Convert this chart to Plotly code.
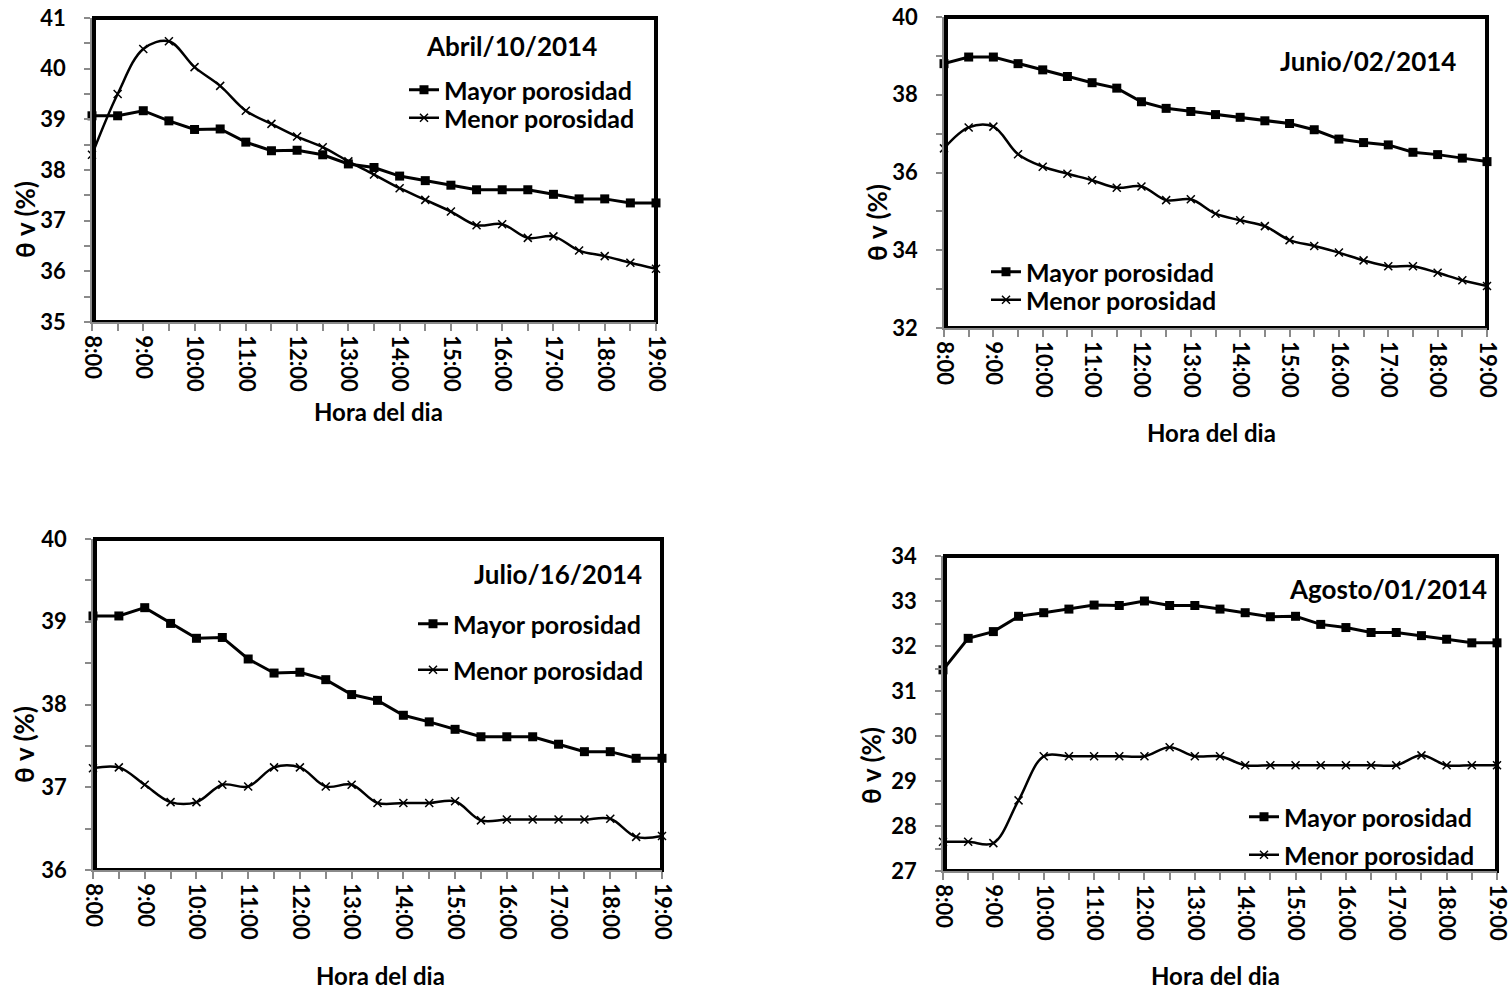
import plotly.graph_objects as go

W, H = 1511, 989

hours = [8.0, 8.5, 9.0, 9.5, 10.0, 10.5, 11.0, 11.5, 12.0, 12.5, 13.0, 13.5,
         14.0, 14.5, 15.0, 15.5, 16.0, 16.5, 17.0, 17.5, 18.0, 18.5, 19.0]
hour_ticks = [8, 9, 10, 11, 12, 13, 14, 15, 16, 17, 18, 19]
hour_labels = ["8:00", "9:00", "10:00", "11:00", "12:00", "13:00", "14:00",
               "15:00", "16:00", "17:00", "18:00", "19:00"]

series_names = ["Mayor porosidad", "Menor porosidad"]
dates = ["Abril/10/2014", "Junio/02/2014", "Julio/16/2014", "Agosto/01/2014"]

abril_mayor = [39.07, 39.07, 39.17, 38.97, 38.80, 38.81, 38.55, 38.38, 38.39, 38.30, 38.12, 38.05,
               37.88, 37.79, 37.70, 37.61, 37.61, 37.61, 37.52, 37.43, 37.43, 37.35, 37.35]
abril_menor = [38.30, 39.50, 40.39, 40.54, 40.03, 39.66, 39.17, 38.91, 38.66, 38.45, 38.17, 37.91,
               37.64, 37.41, 37.18, 36.91, 36.93, 36.66, 36.69, 36.41, 36.30, 36.17, 36.05]

junio_mayor = [38.80, 38.97, 38.97, 38.80, 38.64, 38.47, 38.31, 38.17, 37.82, 37.65, 37.57, 37.49,
               37.42, 37.33, 37.26, 37.10, 36.86, 36.77, 36.71, 36.52, 36.46, 36.37, 36.28]
junio_menor = [36.62, 37.16, 37.18, 36.47, 36.15, 35.97, 35.80, 35.61, 35.64, 35.29, 35.31, 34.94,
               34.77, 34.62, 34.26, 34.11, 33.94, 33.74, 33.59, 33.59, 33.42, 33.23, 33.08]

julio_mayor = [39.07, 39.07, 39.17, 38.98, 38.80, 38.81, 38.55, 38.38, 38.39, 38.30, 38.12, 38.05,
               37.87, 37.79, 37.70, 37.61, 37.61, 37.61, 37.52, 37.43, 37.43, 37.35, 37.35]
julio_menor = [37.23, 37.24, 37.03, 36.82, 36.82, 37.03, 37.01, 37.24, 37.24, 37.01, 37.03, 36.81,
               36.81, 36.81, 36.83, 36.60, 36.61, 36.61, 36.61, 36.61, 36.62, 36.40, 36.41]

agosto_mayor = [31.47, 32.17, 32.32, 32.66, 32.74, 32.82, 32.91, 32.90, 33.00, 32.90, 32.90, 32.82,
                32.74, 32.65, 32.66, 32.48, 32.41, 32.30, 32.30, 32.23, 32.15, 32.07, 32.07]
agosto_menor = [27.65, 27.65, 27.62, 28.57, 29.55, 29.55, 29.55, 29.55, 29.55, 29.75, 29.55, 29.55,
                29.35, 29.35, 29.35, 29.35, 29.35, 29.35, 29.35, 29.57, 29.35, 29.35, 29.35]

y_ranges = [[35, 41], [32, 40], [36, 40], [27, 34]]
y_dticks = [1, 2, 1, 1]
y_minor = [0.5, 1, 0.5, 0.5]

# layout (pixel boxes of plot areas: left, top, right, bottom)
boxes = [(92, 18, 656, 322), (944, 17, 1487, 328), (93, 539, 662, 870), (943, 556, 1497, 871)]
date_pos = [(511, 46), (1368, 61), (558, 574), (1388, 589)]
xtitle_pos = [(378, 412), (1211, 432), (380, 975), (1215, 975)]
ytitle_pos = [(25, 220), (877, 223), (24, 745), (871, 766)]
legend_text_x = [448, 1030, 457, 1288]
legend_rows_y = [(90, 118), (272, 300), (624, 670), (817, 855)]

FONT = "Lato"
data = [(abril_mayor, abril_menor), (junio_mayor, junio_menor),
        (julio_mayor, julio_menor), (agosto_mayor, agosto_menor)]

fig = go.Figure()
layout = dict(width=W, height=H, margin=dict(l=0, r=0, t=0, b=0, autoexpand=False),
              paper_bgcolor="white", plot_bgcolor="white", showlegend=True,
              font=dict(family=FONT, size=20, color="black", weight="bold"))
annotations = []
shapes = []

for i, (mayor, menor) in enumerate(data):
    n = i + 1
    xa = "x" if n == 1 else f"x{n}"
    ya = "y" if n == 1 else f"y{n}"
    lg_a = "legend" if n == 1 else f"legend{2 * n - 1}"
    lg_b = f"legend{2 * n}"
    l, t, r, b = boxes[i]
    fig.add_trace(go.Scatter(x=hours, y=mayor, name=series_names[0], xaxis=xa, yaxis=ya,
                             mode="lines+markers", line=dict(color="black", width=3),
                             marker=dict(symbol="square", size=9, color="black"),
                             cliponaxis=False, legend=lg_a))
    fig.add_trace(go.Scatter(x=hours, y=menor, name=series_names[1], xaxis=xa, yaxis=ya,
                             mode="lines+markers",
                             line=dict(color="black", width=2.5, shape="spline", smoothing=1.0),
                             marker=dict(symbol="x-thin", size=8, color="black",
                                         line=dict(color="black", width=1.5)),
                             cliponaxis=False, legend=lg_b))
    xkey = "xaxis" if n == 1 else f"xaxis{n}"
    ykey = "yaxis" if n == 1 else f"yaxis{n}"
    layout[xkey] = dict(domain=[l / W, r / W], anchor=ya, range=[8, 19],
                        tickvals=hour_ticks, ticktext=hour_labels, tickangle=90,
                        ticks="outside", ticklen=7, tickcolor="#8a8a8a", tickwidth=1.5,
                        showline=True, linecolor="#8a8a8a", linewidth=1.5,
                        showgrid=False, zeroline=False, ticklabelstandoff=0,
                        ticklabeloverflow="allow",
                        tickfont=dict(family=FONT, size=22, color="black", weight="bold"),
                        minor=dict(tick0=8, dtick=0.5, ticks="outside", ticklen=7,
                                   tickcolor="#8a8a8a", tickwidth=1.5, showgrid=False))
    layout[ykey] = dict(domain=[1 - b / H, 1 - t / H], anchor=xa, range=y_ranges[i],
                        dtick=y_dticks[i], tick0=0,
                        ticks="outside", ticklen=6, tickcolor="#8a8a8a", tickwidth=1.5,
                        showline=True, linecolor="#8a8a8a", linewidth=1.5,
                        showgrid=False, zeroline=False, ticklabelstandoff=14,
                        ticklabeloverflow="allow",
                        tickfont=dict(family=FONT, size=22, color="black", weight="bold"),
                        minor=dict(dtick=y_minor[i], ticks="outside", ticklen=6,
                                   tickcolor="#8a8a8a", tickwidth=1.5, showgrid=False))
    shapes.append(dict(type="rect", xref="paper", yref="paper",
                       x0=(l + 2) / W, x1=r / W, y0=1 - b / H, y1=1 - t / H,
                       line=dict(color="black", width=4), layer="between"))
    dx, dy = date_pos[i]
    annotations.append(dict(text=dates[i], xref="paper", yref="paper", x=dx / W, y=1 - dy / H,
                            xanchor="center", yanchor="middle", showarrow=False,
                            font=dict(family=FONT, size=26, color="black", weight="bold")))
    tx, ty = xtitle_pos[i]
    annotations.append(dict(text="Hora del dia", xref="paper", yref="paper", x=tx / W, y=1 - ty / H,
                            xanchor="center", yanchor="middle", showarrow=False,
                            font=dict(family=FONT, size=24, color="black", weight="bold")))
    vx, vy = ytitle_pos[i]
    annotations.append(dict(text="θ v (%)", xref="paper", yref="paper", x=vx / W, y=1 - vy / H,
                            xanchor="center", yanchor="middle", showarrow=False, textangle=-90,
                            font=dict(family=FONT, size=26, color="black", weight="bold")))
    for lg, ry in zip((lg_a, lg_b), legend_rows_y[i]):
        layout[lg] = dict(x=(legend_text_x[i] - 44) / W, y=1 - ry / H,
                          xanchor="left", yanchor="middle", bgcolor="rgba(0,0,0,0)",
                          font=dict(family=FONT, size=25, color="black", weight="bold"))

layout["annotations"] = annotations
layout["shapes"] = shapes
fig.update_layout(**layout)
fig.write_html("out.html", post_script="document.body.style.margin='0';")
